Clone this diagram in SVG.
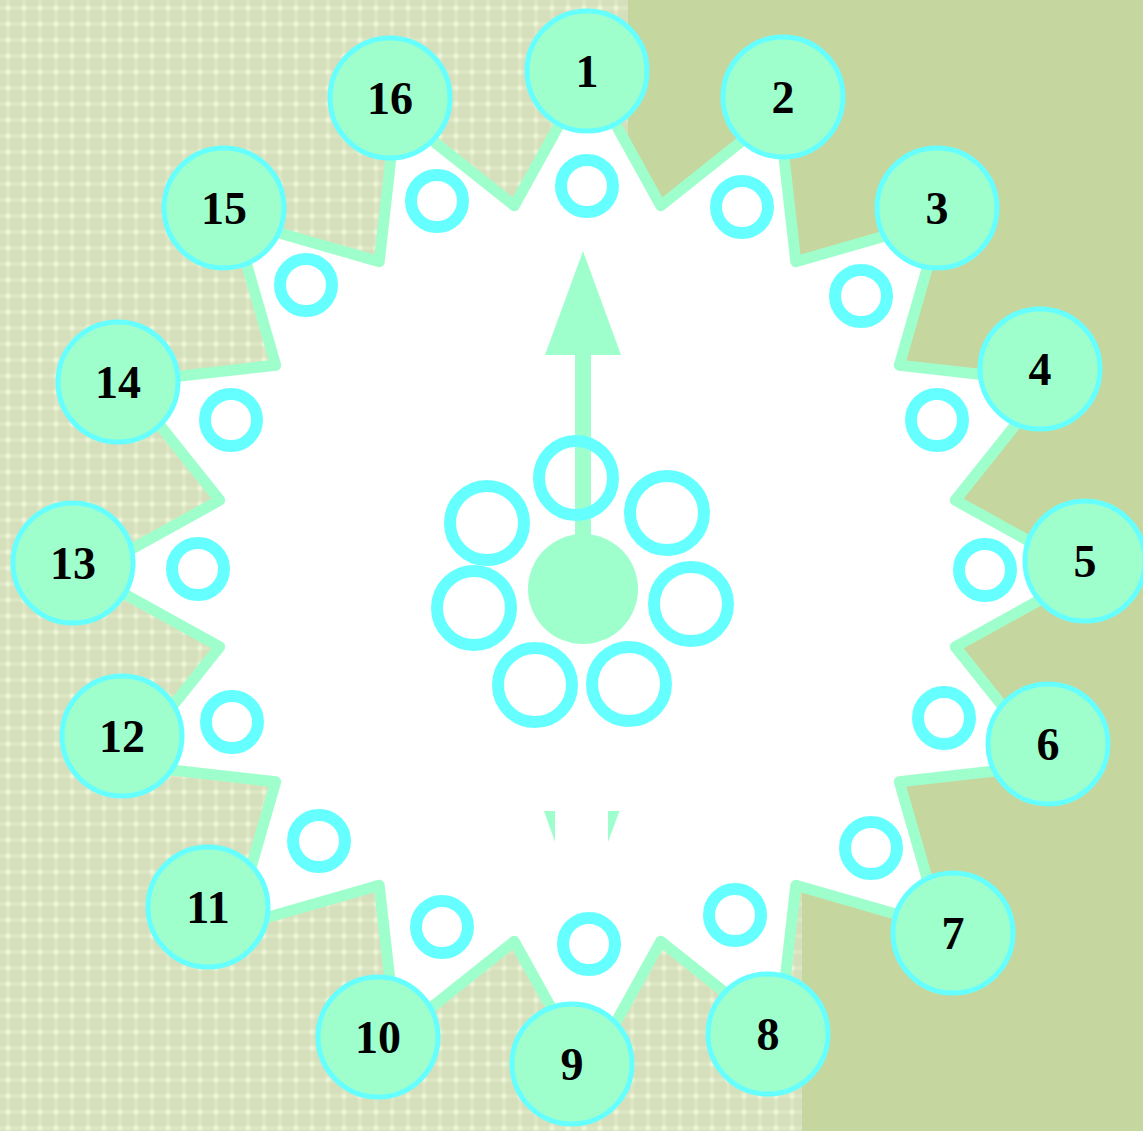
<svg xmlns="http://www.w3.org/2000/svg" width="1143" height="1131" viewBox="0 0 1143 1131">
  <style>
    .star { fill: #ffffff; stroke: #9effcc; stroke-width: 11; stroke-linejoin: round; }
    .node circle { fill: #9effcc; stroke: #66ffff; stroke-width: 5; }
    .node text { font-family: "Liberation Serif", "Times New Roman", serif; font-weight: bold; font-size: 46px; fill: #000000; text-anchor: middle; }
    .ring { fill: none; stroke: #66ffff; stroke-width: 12; }
    .green { fill: #9effcc; }
  </style>
  <defs>
    <radialGradient id="spot">
      <stop offset="0" stop-color="#f3f9e0" stop-opacity="1"/>
      <stop offset="0.5" stop-color="#e6efcf" stop-opacity="0.7"/>
      <stop offset="1" stop-color="#d5dfbb" stop-opacity="0"/>
    </radialGradient>
    <linearGradient id="hband" x1="0" y1="0" x2="0" y2="1">
      <stop offset="0" stop-color="#e2ebc9" stop-opacity="0"/>
      <stop offset="0.5" stop-color="#e2ebc9" stop-opacity="0.8"/>
      <stop offset="1" stop-color="#e2ebc9" stop-opacity="0"/>
    </linearGradient>
    <linearGradient id="vband" x1="0" y1="0" x2="1" y2="0">
      <stop offset="0" stop-color="#e2ebc9" stop-opacity="0"/>
      <stop offset="0.5" stop-color="#e2ebc9" stop-opacity="0.8"/>
      <stop offset="1" stop-color="#e2ebc9" stop-opacity="0"/>
    </linearGradient>
    <pattern id="tex" width="16" height="16" patternUnits="userSpaceOnUse">
      <rect width="16" height="16" fill="#d5dfbb"/>
      <rect x="0" y="5" width="16" height="6" fill="url(#hband)"/>
      <rect x="5" y="0" width="6" height="16" fill="url(#vband)"/>
      <circle cx="8" cy="8" r="5" fill="url(#spot)"/>
    </pattern>
  </defs>

  <!-- background -->
  <rect x="0" y="0" width="1143" height="1131" fill="url(#tex)"/>
  <polygon points="628,0 1143,0 1143,1131 802,1131 802,800 628,400" fill="#c5d79e"/>

  <!-- connectors: star outline -->
  <g id="connectors">
    <polygon class="star" points="587.5,73.5 660.7,205.7 778.8,111.6 795.8,261.7 941.1,219.9 899.3,365.2 1049.4,382.2 955.3,500.3 1087.5,573.5 955.3,646.7 1049.4,764.8 899.3,781.8 941.1,927.1 795.8,885.3 778.8,1035.4 660.7,941.3 587.5,1073.5 514.3,941.3 396.2,1035.4 379.2,885.3 233.9,927.1 275.7,781.8 125.6,764.8 219.7,646.7 87.5,573.5 219.7,500.3 125.6,382.2 275.7,365.2 233.9,219.9 379.2,261.7 396.2,111.6 514.3,205.7"/>
  </g>

  <!-- small rings along the rim -->
  <g id="rim-rings">
    <circle class="ring" cx="587" cy="186" r="26"/>
    <circle class="ring" cx="742" cy="207" r="26"/>
    <circle class="ring" cx="861" cy="296" r="26"/>
    <circle class="ring" cx="937" cy="420" r="26"/>
    <circle class="ring" cx="985" cy="570" r="26"/>
    <circle class="ring" cx="944" cy="718" r="26"/>
    <circle class="ring" cx="871" cy="848" r="26"/>
    <circle class="ring" cx="735" cy="915" r="26"/>
    <circle class="ring" cx="589" cy="944" r="26"/>
    <circle class="ring" cx="442" cy="927" r="26"/>
    <circle class="ring" cx="319" cy="841" r="26"/>
    <circle class="ring" cx="232" cy="722" r="26"/>
    <circle class="ring" cx="198" cy="569" r="26"/>
    <circle class="ring" cx="231" cy="420" r="26"/>
    <circle class="ring" cx="306" cy="285" r="26"/>
    <circle class="ring" cx="437" cy="201" r="26"/>
  </g>

  <!-- central hub -->
  <g id="hub">
    <rect class="green" x="575" y="350" width="16" height="240"/>
    <polygon class="green" points="583,251 621,355 545,355"/>
    <circle class="green" cx="583" cy="589" r="55"/>
    <circle class="ring" cx="576" cy="478" r="37"/>
    <circle class="ring" cx="667" cy="513" r="37"/>
    <circle class="ring" cx="487" cy="523" r="37"/>
    <circle class="ring" cx="474" cy="608" r="37"/>
    <circle class="ring" cx="691" cy="604" r="37"/>
    <circle class="ring" cx="535" cy="685" r="37"/>
    <circle class="ring" cx="629" cy="684" r="37"/>
    <polygon class="green" points="544,811 555,811 555,842"/>
    <polygon class="green" points="608,811 619.5,811 608,842"/>
  </g>

  <!-- nodes -->
  <g id="node1" class="node"><circle cx="587" cy="71" r="60"/><text x="587" y="87">1</text></g>
  <g id="node2" class="node"><circle cx="783" cy="97" r="60"/><text x="783" y="113">2</text></g>
  <g id="node3" class="node"><circle cx="937" cy="208" r="60"/><text x="937" y="224">3</text></g>
  <g id="node4" class="node"><circle cx="1040" cy="369" r="60"/><text x="1040" y="385">4</text></g>
  <g id="node5" class="node"><circle cx="1085" cy="561" r="60"/><text x="1085" y="577">5</text></g>
  <g id="node6" class="node"><circle cx="1048" cy="744" r="60"/><text x="1048" y="760">6</text></g>
  <g id="node7" class="node"><circle cx="953" cy="933" r="60"/><text x="953" y="949">7</text></g>
  <g id="node8" class="node"><circle cx="768" cy="1034" r="60"/><text x="768" y="1050">8</text></g>
  <g id="node9" class="node"><circle cx="572" cy="1064" r="60"/><text x="572" y="1080">9</text></g>
  <g id="node10" class="node"><circle cx="378" cy="1037" r="60"/><text x="378" y="1053">10</text></g>
  <g id="node11" class="node"><circle cx="208" cy="907" r="60"/><text x="208" y="923">11</text></g>
  <g id="node12" class="node"><circle cx="122" cy="736" r="60"/><text x="122" y="752">12</text></g>
  <g id="node13" class="node"><circle cx="73" cy="563" r="60"/><text x="73" y="579">13</text></g>
  <g id="node14" class="node"><circle cx="118" cy="382" r="60"/><text x="118" y="398">14</text></g>
  <g id="node15" class="node"><circle cx="224" cy="208" r="60"/><text x="224" y="224">15</text></g>
  <g id="node16" class="node"><circle cx="390" cy="98" r="60"/><text x="390" y="114">16</text></g>
</svg>
